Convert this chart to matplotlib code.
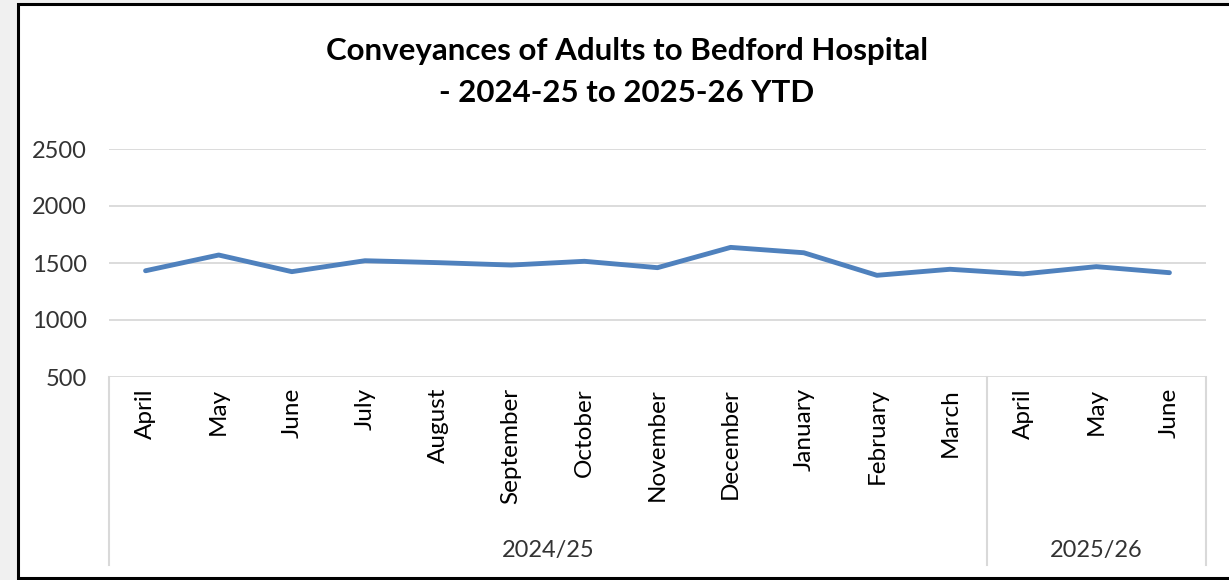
import matplotlib
matplotlib.use("Agg")
import matplotlib.pyplot as plt
from matplotlib.patches import Rectangle

plt.rcParams["font.family"] = ["Lato", "DejaVu Sans"]

months = ["April", "May", "June", "July", "August", "September", "October",
          "November", "December", "January", "February", "March",
          "April", "May", "June"]
conveyances = [1432, 1570, 1424, 1520, 1503, 1482, 1515, 1459, 1637, 1590,
               1392, 1445, 1404, 1468, 1415]
years = ["2024/25", "2025/26"]
year_counts = [12, 3]
yticks = [500, 1000, 1500, 2000, 2500]

W, H = 1229, 580
fig = plt.figure(figsize=(W / 100, H / 100), dpi=100, facecolor="#f0f0f0")

# chart box (white with black border, runs off the right edge)
fig.add_artist(Rectangle((18 / W, 1 - 578 / H), 1.0, (578 - 4) / H,
                         transform=fig.transFigure, facecolor="white",
                         edgecolor="black", linewidth=2.2, zorder=0))

ax = fig.add_axes([109 / W, 1 - 377 / H, (1206 - 109) / W, (377 - 149) / H])
ax.set_facecolor("none")
ax.plot(range(len(months)), conveyances, color="#4f81bd", linewidth=3.5,
        solid_capstyle="round", solid_joinstyle="round", zorder=3)

ax.set_xlim(-0.5, len(months) - 0.5)
ax.set_ylim(500, 2500)
ax.set_yticks(yticks)
ax.set_yticklabels([str(v) for v in yticks])
ax.grid(axis="y", color="#d9d9d9", linewidth=1.3)
ax.set_axisbelow(True)
for s in ax.spines.values():
    s.set_visible(False)

ax.set_xticks(range(len(months)))
ax.set_xticklabels(months, rotation=90, va="top", ha="center")
ax.tick_params(axis="x", length=0, pad=8, labelsize=17.5, labelcolor="black")
ax.tick_params(axis="y", length=0, pad=16, labelsize=17, labelcolor="#333333")

# multi-level category axis lines and year labels
tr = ax.get_xaxis_transform()
y_bot = (377 - 565) / (377 - 149)
start = -0.5
ax.plot([start, start], [0, y_bot], color="#d9d9d9", lw=1.5, transform=tr, clip_on=False)
for name, n in zip(years, year_counts):
    end = start + n
    ax.plot([end, end], [0, y_bot], color="#d9d9d9", lw=1.5, transform=tr, clip_on=False)
    ax.text((start + end) / 2, (377 - 551) / (377 - 149), name, transform=tr,
            ha="center", va="center", fontsize=17, color="#333333")
    start = end

fig.text(627 / W, 1 - 72 / H,
         "Conveyances of Adults to Bedford Hospital\n- 2024-25 to 2025-26 YTD",
         ha="center", va="center", fontsize=22.5, fontweight="bold",
         linespacing=1.65, color="black")

fig.savefig("out.png", dpi=100, facecolor=fig.get_facecolor())
